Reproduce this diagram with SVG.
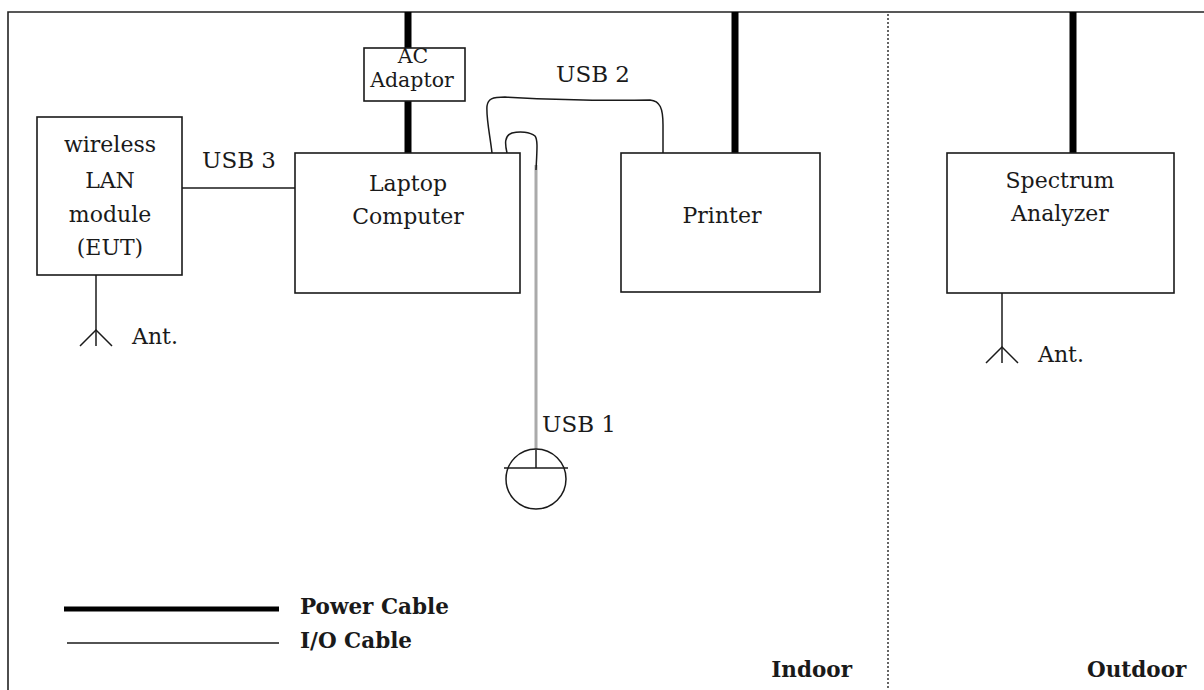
<svg xmlns="http://www.w3.org/2000/svg" width="1204" height="690" viewBox="0 0 1204 690">
<style>
.box{fill:#fff;stroke:#1a1a1a;stroke-width:1.6}
.t{font-family:"DejaVu Serif","Liberation Serif",serif;font-size:22px;fill:#1a1a1a;text-anchor:middle}
.tl{font-family:"DejaVu Serif","Liberation Serif",serif;font-size:23px;fill:#1a1a1a}
.b{font-family:"DejaVu Serif","Liberation Serif",serif;font-weight:bold;font-size:21.5px;fill:#1a1a1a}
.pw{stroke:#000;stroke-width:7;fill:none}
.io{stroke:#1a1a1a;stroke-width:1.5;fill:none}
</style>
<rect width="1204" height="690" fill="#fff"/>
<g id="frame">
<path d="M8 690 V12 H1204" fill="none" stroke="#222" stroke-width="1.6"/>
<line x1="888" y1="14" x2="888" y2="690" stroke="#333" stroke-width="1.5" stroke-dasharray="2,2"/>
</g>
<g id="connectors">
<line class="pw" x1="408" y1="12" x2="408" y2="48"/>
<line class="pw" x1="408" y1="101" x2="408" y2="153"/>
<line class="pw" x1="735" y1="12" x2="735" y2="153"/>
<line class="pw" x1="1073" y1="12" x2="1073" y2="153"/>
<line class="io" x1="182" y1="188" x2="295" y2="188"/>
<path class="io" d="M492 153 C490 135 486 118 487 106 C488 99 492 97 505 97 C560 100 600 101 650 100 C660 101 663 108 663 125 L663 153"/>
<line x1="536" y1="165" x2="536" y2="450" stroke="#aaa" stroke-width="3"/>
<path class="io" d="M507 153 C505 144 504 136 512 133 C520 131 530 132 535 136 C538 140 537 150 536 170"/>
<line class="io" x1="536" y1="450" x2="536" y2="468"/>
<line class="io" x1="96" y1="275" x2="96" y2="346"/>
<path class="io" d="M80 346 L96 330 L112 346"/>
<line class="io" x1="1002" y1="293" x2="1002" y2="363"/>
<path class="io" d="M986 363 L1002 347 L1018 363"/>
</g>
<g id="ac-adaptor">
<rect class="box" x="364" y="48" width="101" height="53"/>
<text class="t" x="413" y="63" style="font-size:20.5px">AC</text>
<text class="t" x="412" y="87" style="font-size:20.5px">Adaptor</text>
</g>
<g id="wlan">
<rect class="box" x="37" y="117" width="145" height="158"/>
<text class="t" x="110" y="152">wireless</text>
<text class="t" x="110" y="188">LAN</text>
<text class="t" x="110" y="222">module</text>
<text class="t" x="110" y="255">(EUT)</text>
</g>
<g id="laptop">
<rect class="box" x="295" y="153" width="225" height="140"/>
<text class="t" x="408" y="191">Laptop</text>
<text class="t" x="408" y="224">Computer</text>
</g>
<g id="printer">
<rect class="box" x="621" y="153" width="199" height="139"/>
<text class="t" x="722" y="223">Printer</text>
</g>
<g id="spectrum">
<rect class="box" x="947" y="153" width="227" height="140"/>
<text class="t" x="1060" y="188">Spectrum</text>
<text class="t" x="1060" y="221">Analyzer</text>
</g>
<g id="mouse">
<circle cx="536" cy="479" r="30" fill="none" stroke="#1a1a1a" stroke-width="1.5"/>
<line class="io" x1="504" y1="468" x2="568" y2="468"/>
</g>
<g id="labels">
<text class="tl" x="202" y="168">USB 3</text>
<text class="tl" x="556" y="82">USB 2</text>
<text class="tl" x="542" y="432">USB 1</text>
<text class="tl" x="132" y="344" style="font-size:22px">Ant.</text>
<text class="tl" x="1038" y="362" style="font-size:22px">Ant.</text>
</g>
<g id="legend">
<line x1="64" y1="609" x2="279" y2="609" stroke="#000" stroke-width="5"/>
<line x1="67" y1="643" x2="279" y2="643" stroke="#1a1a1a" stroke-width="1.3"/>
<text class="b" x="300" y="614">Power Cable</text>
<text class="b" x="300" y="648">I/O Cable</text>
<text class="b" x="852" y="677" text-anchor="end">Indoor</text>
<text class="b" x="1087" y="677">Outdoor</text>
</g>
</svg>
